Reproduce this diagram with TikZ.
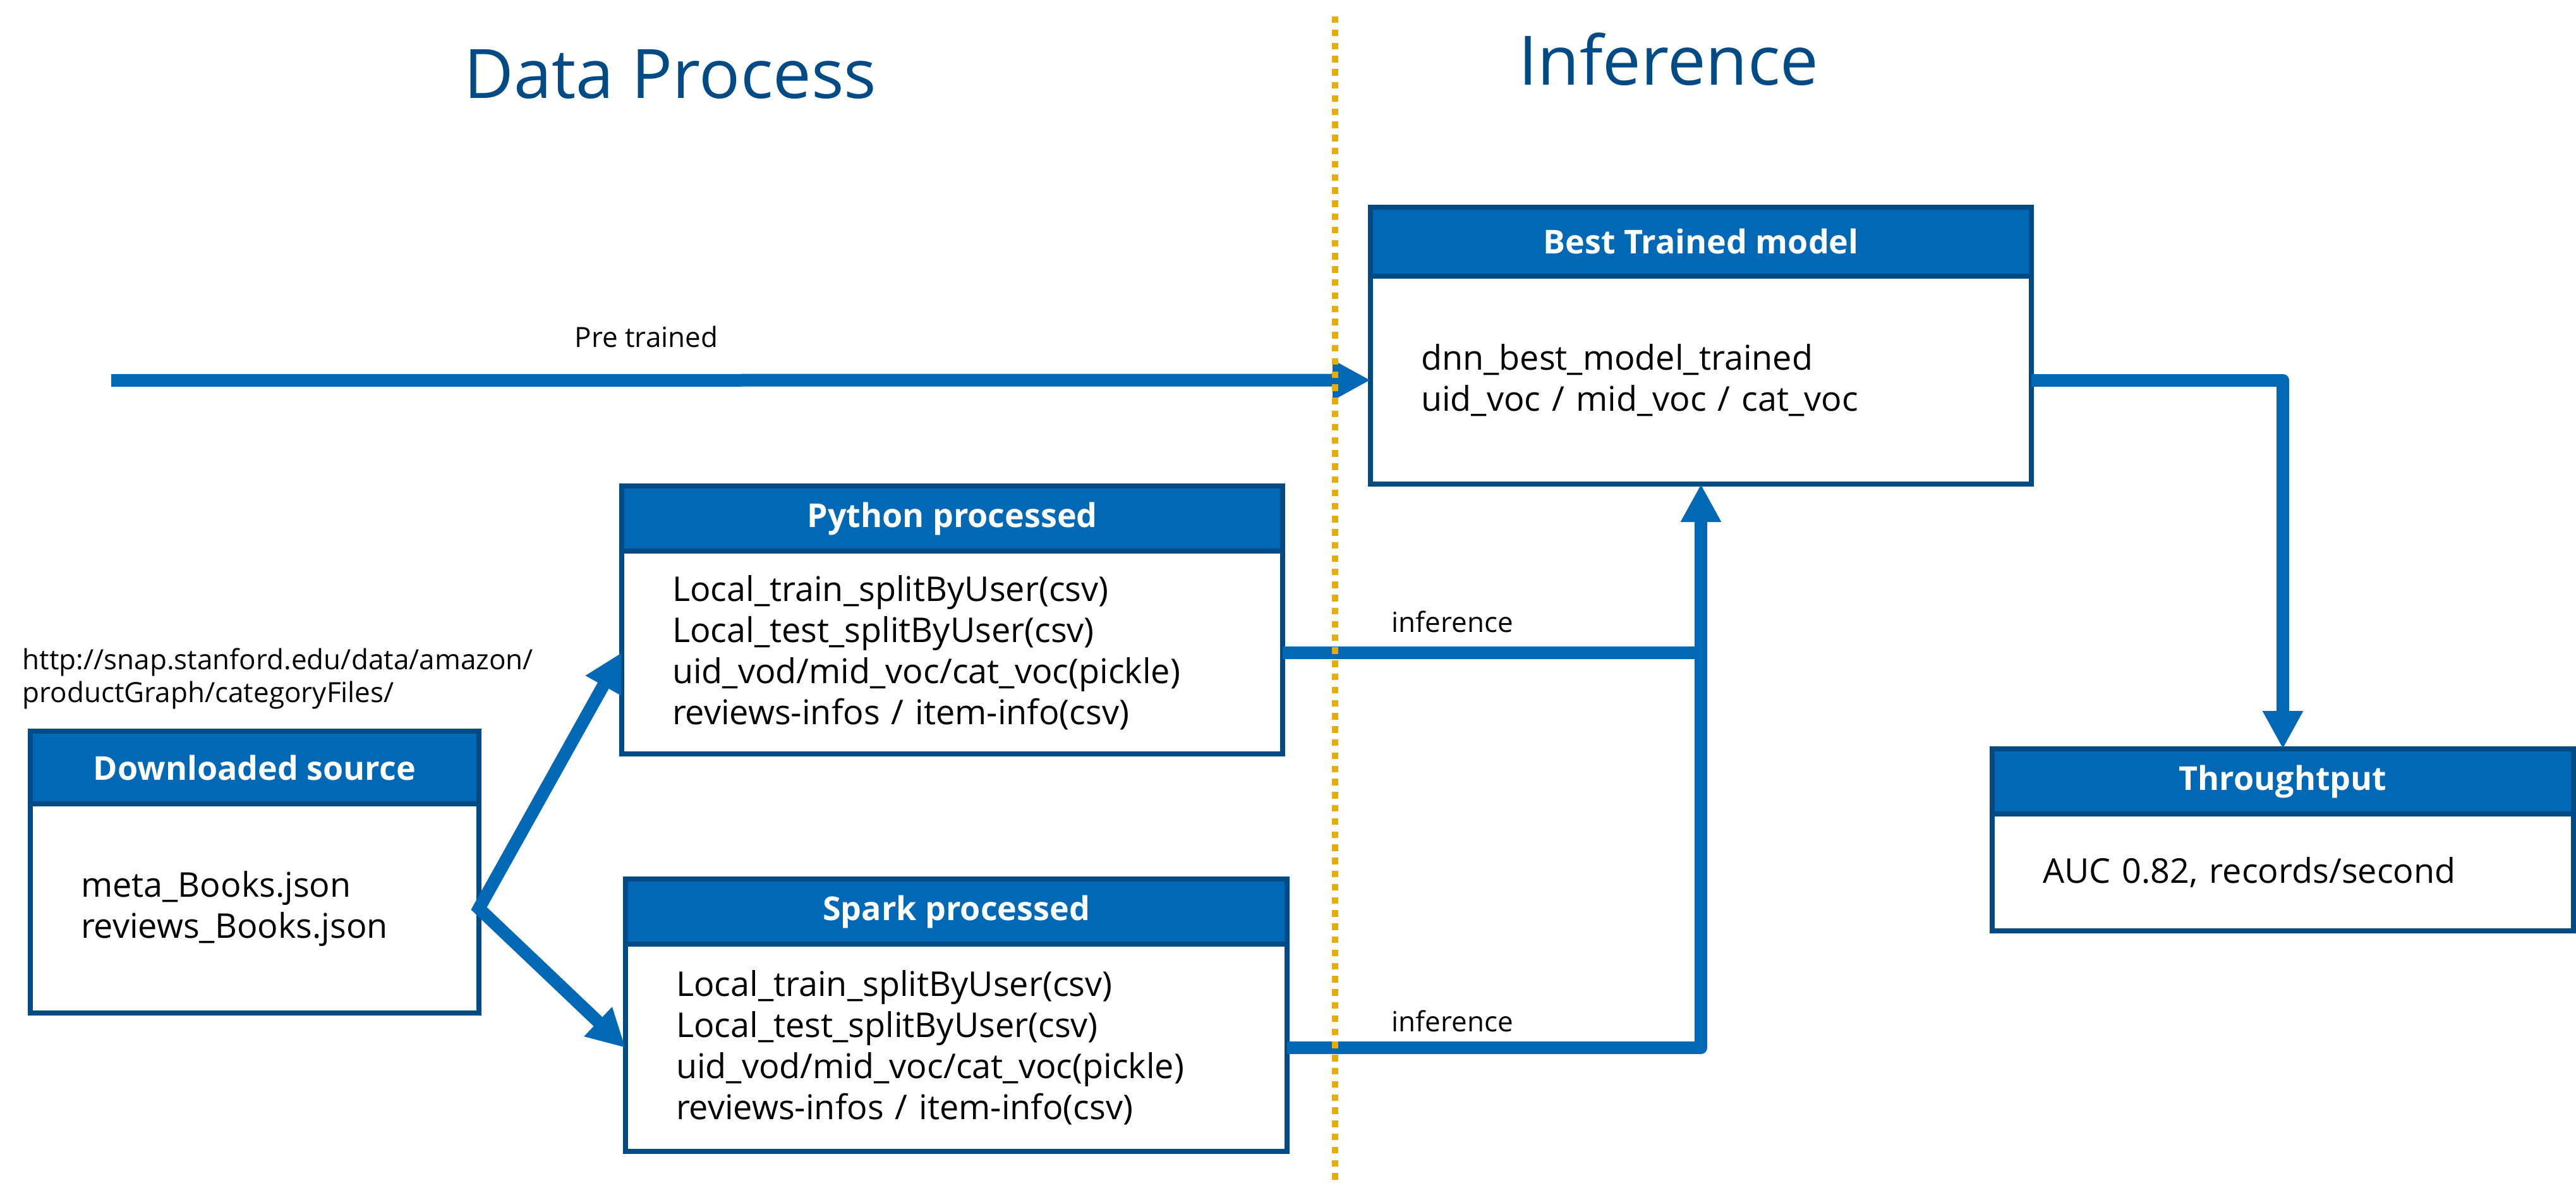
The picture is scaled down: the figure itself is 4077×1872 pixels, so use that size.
\documentclass[tikz,border=0pt]{standalone}
\usepackage{fontspec}
\setmainfont{Open Sans}
\usetikzlibrary{arrows.meta}
\definecolor{intelblue}{HTML}{0068B5}
\definecolor{bordblue}{HTML}{004A86}
\definecolor{titleblue}{HTML}{004A86}
\definecolor{divorange}{HTML}{E6AC0A}
\begin{document}
\begin{tikzpicture}[x=0.25pt,y=-0.25pt,
 hdr/.style={draw=bordblue,fill=intelblue,line width=2pt,text=white,font=\bfseries\fontsize{13}{15}\selectfont,anchor=north west,inner sep=0pt,outer sep=0pt},
 bodybox/.style={draw=bordblue,fill=white,line width=2pt,anchor=north west,inner xsep=20pt,inner ysep=0pt,outer sep=0pt,align=left,font=\fontsize{13.5}{16.25}\selectfont},
 flow/.style={draw=intelblue,line width=5pt,line join=round,-{Triangle[length=15pt,width=15pt]}},
 lbl/.style={font=\fontsize{11}{13}\selectfont,inner sep=0pt},
 ttl/.style={font=\fontsize{27}{32}\selectfont,text=titleblue,anchor=base,inner sep=0pt}]
\useasboundingbox (0,0) rectangle (4077,1872);

% titles
\node[ttl] (t1) at (1061,156) {Data Process};
\node[ttl] (t2) at (2641,135) {Inference};

% Downloaded source
\node[bodybox,minimum width=177.5pt,minimum height=82.75pt,text width=137.5pt] (dlb) at (48,1272) {meta\_Books.json\\reviews\_Books.json};
\node[hdr,minimum width=177.5pt,minimum height=28.75pt] (dlh) at (48,1157) {Downloaded source};
\node[lbl,anchor=west,align=left] (url) at (35,1074) {http://snap.stanford.edu/data/amazon/\\productGraph/categoryFiles/};

% Python processed
\node[bodybox,minimum width=261.5pt,minimum height=80.25pt,text width=221.5pt] (pyb) at (984,872) {Local\_train\_splitByUser(csv)\\Local\_test\_splitByUser(csv)\\uid\_vod/mid\_voc/cat\_voc(pickle)\\reviews-infos / item-info(csv)};
\node[hdr,minimum width=261.5pt,minimum height=25.75pt] (pyh) at (984,769) {Python processed};

% Spark processed
\node[bodybox,minimum width=261.75pt,minimum height=82pt,text width=221.75pt] (spb) at (990,1494) {Local\_train\_splitByUser(csv)\\Local\_test\_splitByUser(csv)\\uid\_vod/mid\_voc/cat\_voc(pickle)\\reviews-infos / item-info(csv)};
\node[hdr,minimum width=261.75pt,minimum height=25.75pt] (sph) at (990,1391) {Spark processed};

% Best trained model
\node[bodybox,minimum width=261.5pt,minimum height=82.25pt,text width=221.5pt] (bestb) at (2169,437) {dnn\_best\_model\_trained\\uid\_voc / mid\_voc / cat\_voc};
\node[hdr,minimum width=261.5pt,minimum height=27.25pt] (besth) at (2169,328) {Best Trained model};

% Throughput
\node[bodybox,minimum width=230pt,minimum height=46.25pt,text width=190pt] (thb) at (3153,1288) {AUC 0.82, records/second};
\node[hdr,minimum width=230pt,minimum height=25.75pt] (thh) at (3153,1185) {Throughtput};

% labels
\node[lbl,anchor=base] (lpre) at (1023,550) {Pre trained};
\node[lbl,anchor=base west] (linf1) at (2202,1000) {inference};
\node[lbl,anchor=base west] (linf2) at (2202,1632) {inference};

% connectors
\coordinate (pstart) at (176,602);
\draw[flow] (pstart) -- (bestb.west);
\draw[flow,line join=miter,{Triangle[length=15pt,width=15pt]}-{Triangle[length=15pt,width=15pt]}] (pyb.west) -- (dlb.east) -- (spb.west);
\draw[flow] (spb.east) -| (bestb.south);
\draw[draw=intelblue,line width=5pt] (pyb.east) -- (pyb.east -| bestb.south);
\draw[flow] (bestb.east) -| (thh.north);

% divider
\coordinate (dtop) at (2113,26);
\coordinate (dbot) at (2113,1872);
\draw[divorange,line width=2.5pt,dash pattern=on 2.6pt off 2.6pt] (dtop) -- (dbot);
\end{tikzpicture}
\end{document}
